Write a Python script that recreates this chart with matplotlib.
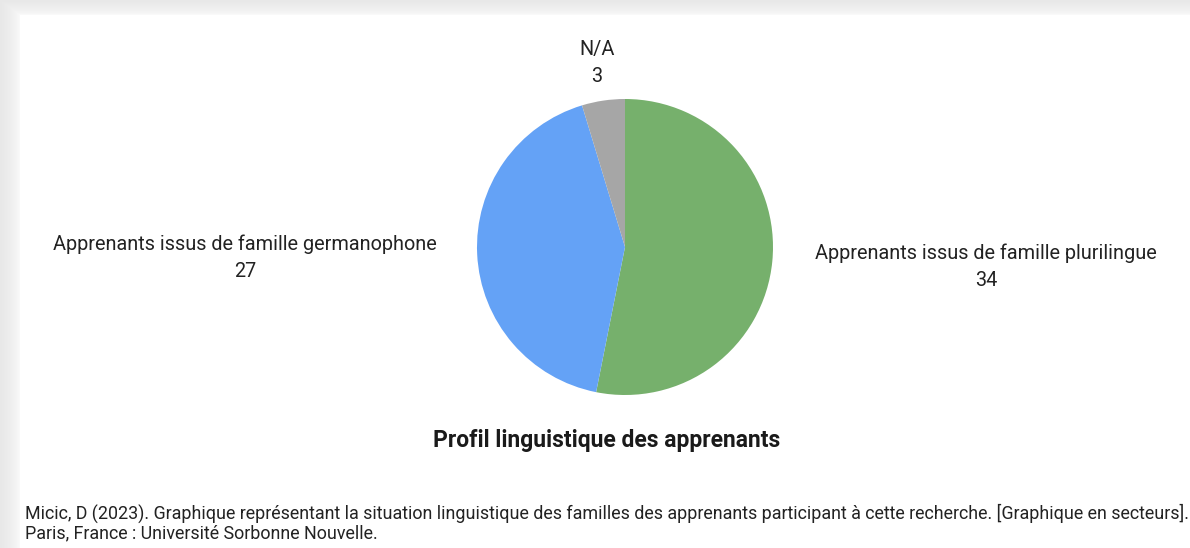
import matplotlib
matplotlib.use("Agg")
import matplotlib.pyplot as plt
import numpy as np

categories = ["Apprenants issus de famille plurilingue",
              "Apprenants issus de famille germanophone",
              "N/A"]
values = [34, 27, 3]
colors = ["#76B06C", "#64A2F6", "#A6A6A6"]
title = "Profil linguistique des apprenants"
footer = ("Micic, D (2023). Graphique représentant la situation linguistique des familles des apprenants "
          "participant à cette recherche. [Graphique en secteurs].\nParis, France : Université Sorbonne Nouvelle.")

W, H = 1190, 548
fig = plt.figure(figsize=(W / 100, H / 100), dpi=100)
fig.patch.set_facecolor("white")

# background with soft shadow on top and left
bg = fig.add_axes([0, 0, 1, 1])
bg.set_xlim(0, W)
bg.set_ylim(H, 0)
bg.axis("off")
xx = np.arange(W)[None, :]
yy = np.arange(H)[:, None]
sx = np.clip((20 - xx) / 20.0, 0, 1) * np.ones((H, 1))
sy = np.clip((15 - yy) / 15.0, 0, 1) * np.ones((1, W))
s = np.maximum(sx, sy)
img = 1 - 0.09 * np.sqrt(s)
bg.imshow(np.dstack([img, img, img]), extent=(0, W, H, 0), aspect="auto", interpolation="bilinear")

# pie
cx, cy, r = 625, 247, 148
ax = fig.add_axes([(cx - r) / W, (H - cy - r) / H, 2 * r / W, 2 * r / H])
ax.pie(values, colors=colors, startangle=90, counterclock=False,
       wedgeprops=dict(linewidth=0))
ax.set_xlim(-1, 1)
ax.set_ylim(-1, 1)
ax.set_aspect("equal")
ax.axis("off")

lab_font = dict(family="Roboto", fontsize=14.3, color="#222222", ha="center", va="center")
label_pos = [(986, 267), (245, 258), (597, 63)]
for cat, val, (lx, ly) in zip(categories, values, label_pos):
    fig.text(lx / W, 1 - ly / H, f"{cat}\n{val}", linespacing=1.55, **lab_font)

fig.text(607 / W, 1 - 440 / H, title, family="Roboto", fontweight="bold",
         fontsize=16.5, color="#1a1a1a", ha="center", va="center")

fig.text(25 / W, 1 - 523 / H, footer, family="Roboto", fontsize=12.9, color="#222222",
         ha="left", va="center", linespacing=1.1)

fig.savefig("out.png", dpi=100)
